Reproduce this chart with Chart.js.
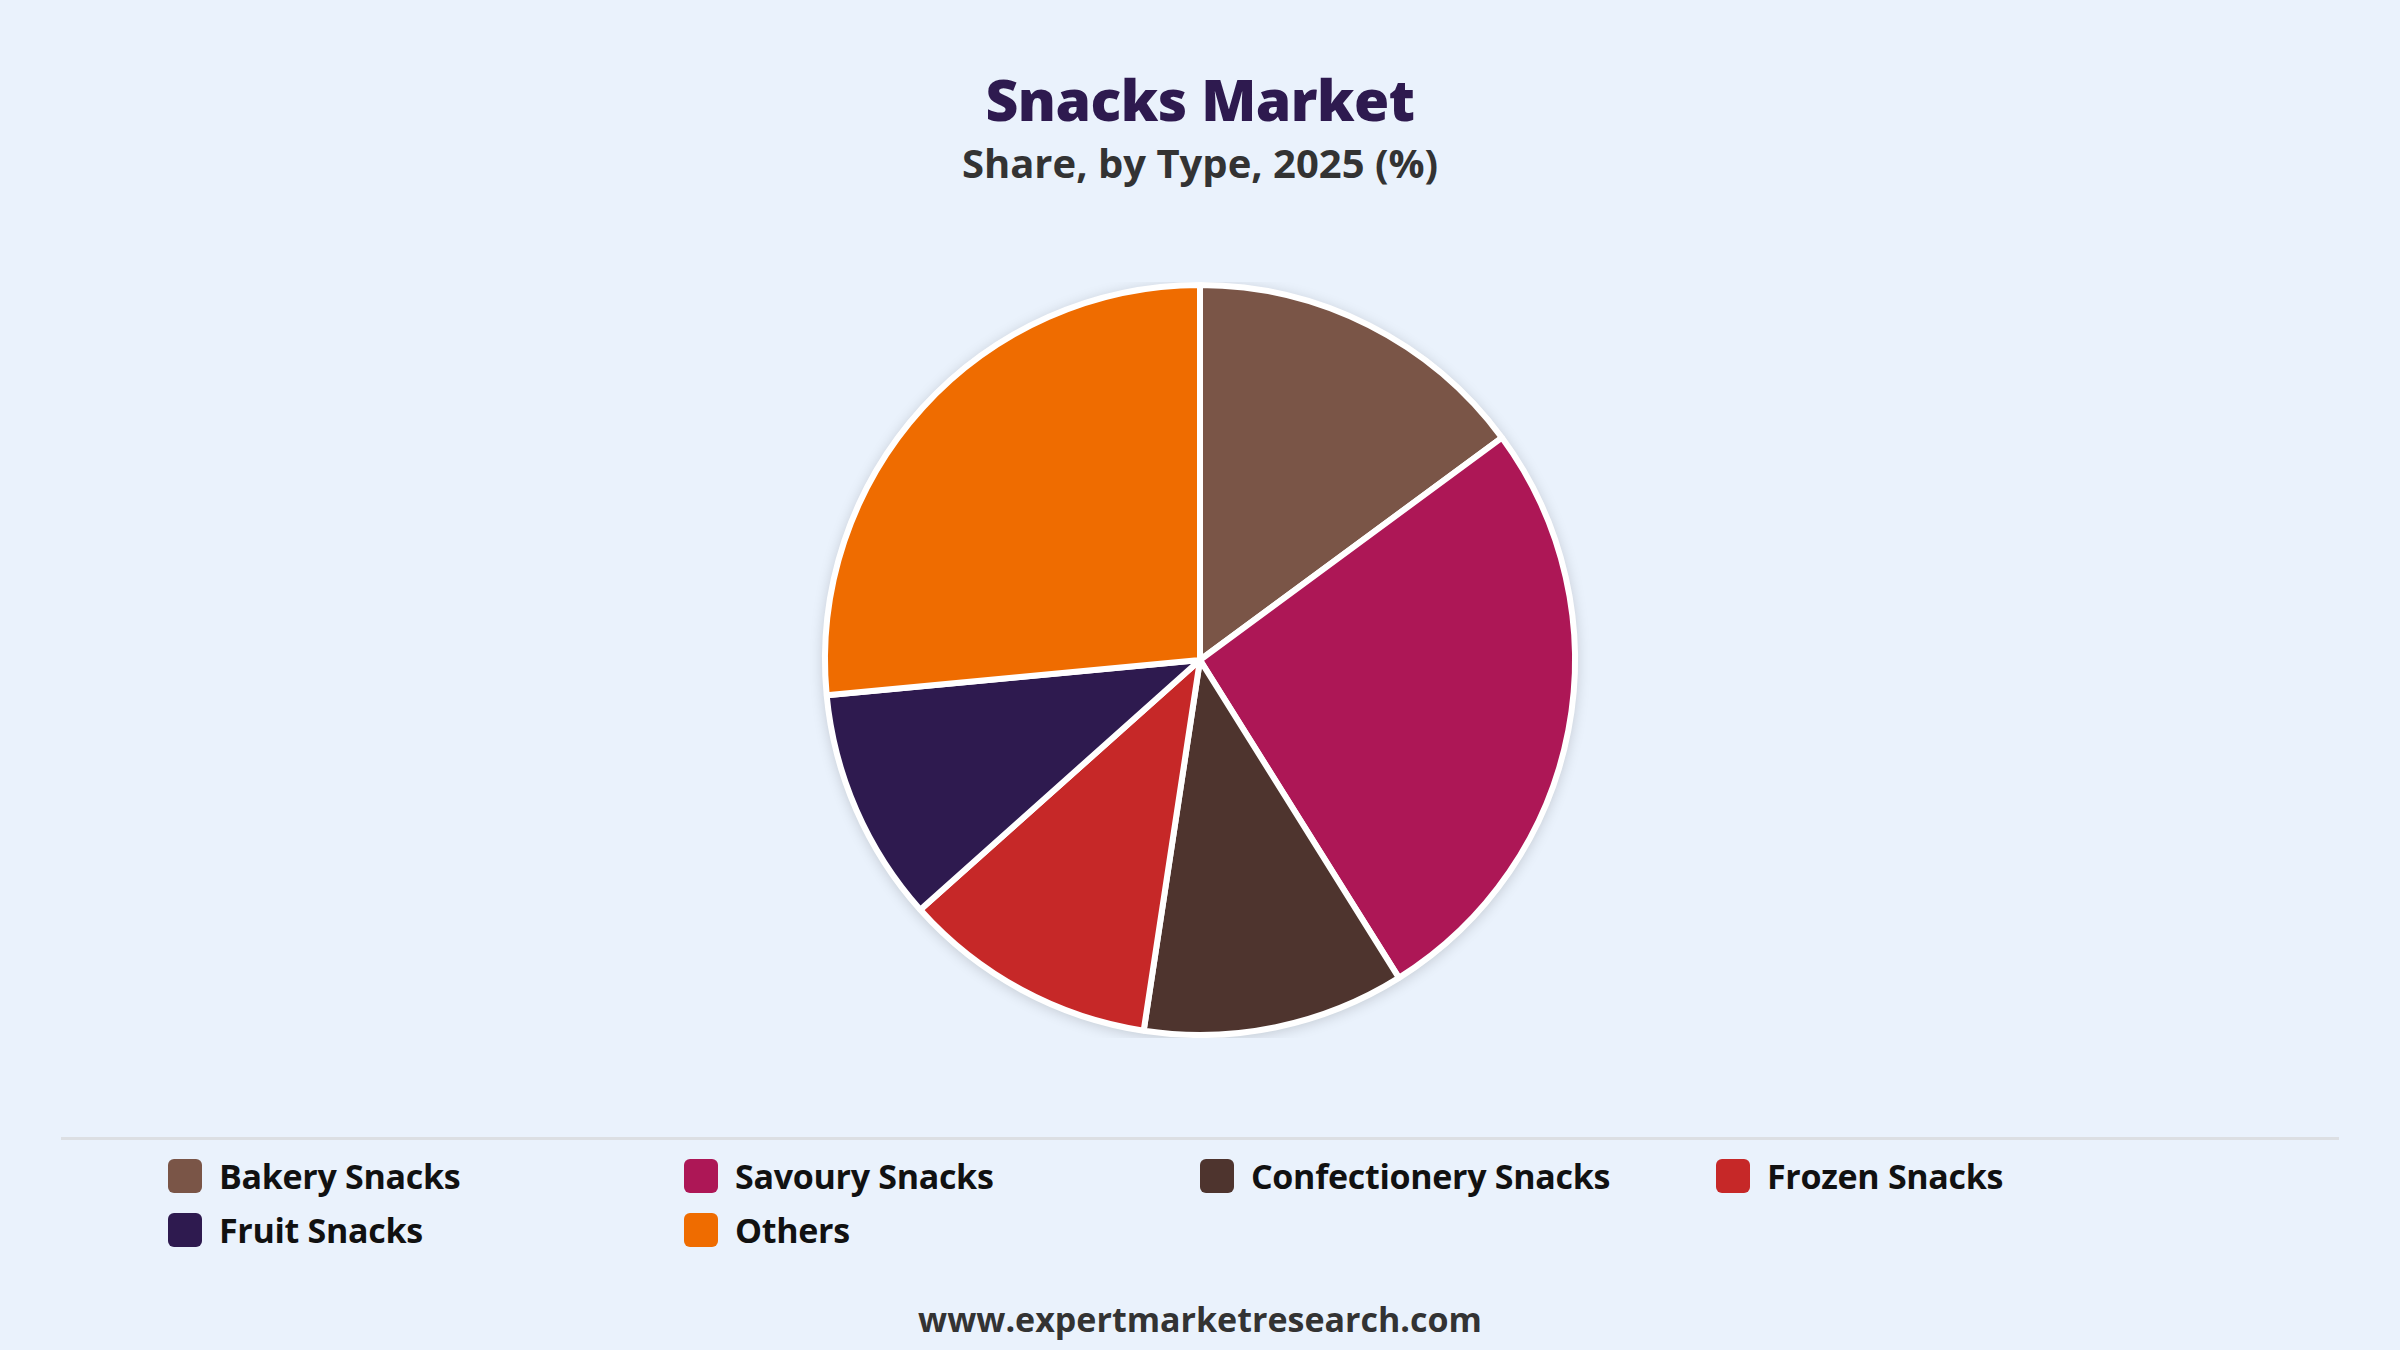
<!DOCTYPE html>
<html>
<head>
<meta charset="utf-8">
<script src="https://cdn.jsdelivr.net/npm/chart.js@4"></script>
<style>
  html, body { margin:0; padding:0; width:2400px; height:1350px; background:#eaf2fc; overflow:hidden; font-family:"Open Sans","Noto Sans",sans-serif; }
  #title { position:absolute; left:0; width:2400px; top:65px; text-align:center; font-weight:800; font-size:57px; color:#2e1a4f; letter-spacing:-0.5px; line-height:1.2; }
  #subtitle { position:absolute; left:0; width:2400px; top:139px; text-align:center; font-weight:700; font-size:40px; color:#333333; line-height:1.2; }
  #wrap { position:absolute; left:0; top:282px; width:2400px; height:756px; }
  #sep { position:absolute; left:61px; width:2278px; top:1137px; height:3px; background:#dcdfe3; }
  #legend { position:absolute; left:168px; top:1149px; display:grid; grid-template-columns:repeat(4,516px); grid-auto-rows:54px; }
  .item { display:flex; align-items:center; font-weight:700; font-size:34px; color:#111111; letter-spacing:-0.3px; }
  .box { width:34px; height:34px; border-radius:6px; margin-right:17px; flex:none; }
  #footer { position:absolute; left:0; width:2400px; top:1296px; text-align:center; font-weight:700; font-size:34px; color:#333333; }
</style>
</head>
<body>
<div id="title">Snacks Market</div>
<div id="subtitle">Share, by Type, 2025 (%)</div>
<div id="wrap"><canvas id="c"></canvas></div>
<div id="sep"></div>
<div id="legend"></div>
<div id="footer">www.expertmarketresearch.com</div>
<script>
const categories = ["Bakery Snacks", "Savoury Snacks", "Confectionery Snacks", "Frozen Snacks", "Fruit Snacks", "Others"];
const shares = [14.9, 26.2, 11.3, 11.0, 10.1, 26.5];
const colors = ["#7a5547", "#ad1756", "#4e342e", "#c62828", "#2e1a4f", "#ef6c00"];

const shadowPlugin = {
  id: 'pieShadow',
  beforeDatasetsDraw(chart) {
    const meta = chart.getDatasetMeta(0);
    if (!meta.data.length) return;
    const a = meta.data[0];
    const ctx = chart.ctx;
    ctx.save();
    ctx.shadowColor = 'rgba(0,0,0,0.18)';
    ctx.shadowBlur = 14;
    ctx.shadowOffsetY = 2;
    ctx.fillStyle = '#ffffff';
    ctx.beginPath();
    ctx.arc(a.x, a.y, a.outerRadius + 2, 0, Math.PI * 2);
    ctx.fill();
    ctx.restore();
  }
};

const chart = new Chart(document.getElementById('c'), {
  type: 'pie',
  data: {
    labels: categories,
    datasets: [{
      data: shares,
      backgroundColor: colors,
      borderColor: '#ffffff',
      borderWidth: 6,
      hoverOffset: 0
    }]
  },
  options: {
    responsive: true,
    maintainAspectRatio: false,
    animation: false,
    layout: { padding: 0 },
    plugins: {
      legend: { display: false },
      tooltip: { enabled: false },
      title: { display: false }
    }
  },
  plugins: [shadowPlugin]
});

const legend = document.getElementById('legend');
chart.data.labels.forEach((lab, i) => {
  const it = document.createElement('div');
  it.className = 'item';
  const b = document.createElement('span');
  b.className = 'box';
  b.style.background = chart.data.datasets[0].backgroundColor[i];
  const t = document.createElement('span');
  t.textContent = lab;
  it.appendChild(b); it.appendChild(t);
  legend.appendChild(it);
});
</script>
</body>
</html>
